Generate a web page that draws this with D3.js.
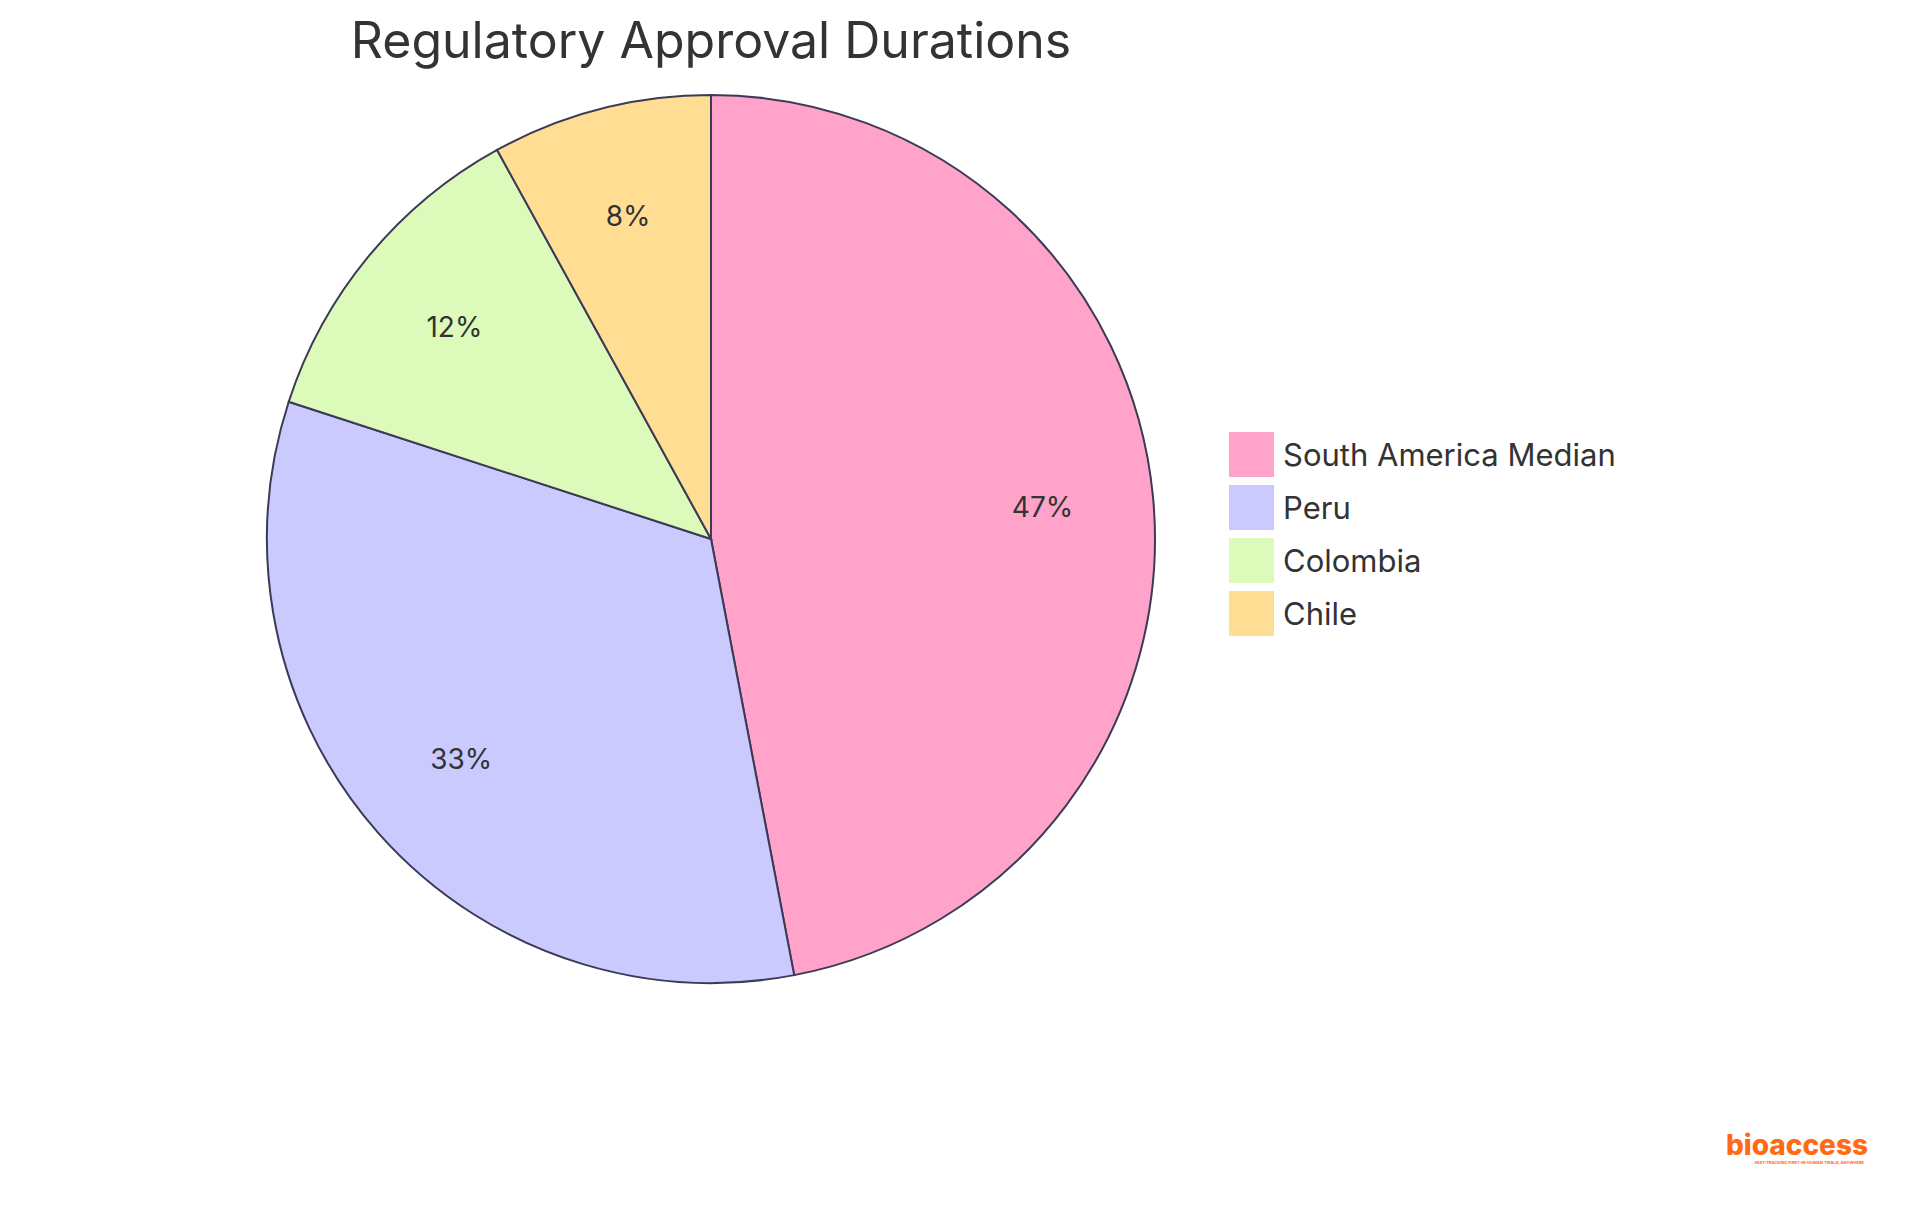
<!DOCTYPE html>
<html><head><meta charset="utf-8">
<script src="https://cdn.jsdelivr.net/npm/d3@7"></script>
<style>body{margin:0;background:#fff}svg{display:block}</style>
</head><body>
<svg id="c" width="1920" height="1215"></svg>
<script>
const categories = ["South America Median", "Peru", "Colombia", "Chile"];
const values = [47, 33, 12, 8];
const colors = ["#FFA3CB", "#CACAFF", "#DCFABA", "#FFDE94"];

const svg = d3.select("#c");
const font = "Inter, 'Open Sans', sans-serif";
const cx = 711, cy = 539, R = 444;

svg.append("text").attr("x", cx).attr("y", 58).attr("text-anchor", "middle")
  .attr("font-family", font).attr("font-size", 50).attr("fill", "#333").text("Regulatory Approval Durations");

const pie = d3.pie().sort(null).value(d => d)(values);
const arc = d3.arc().innerRadius(0).outerRadius(R);
const labelArc = d3.arc().innerRadius(R * 0.75).outerRadius(R * 0.75);
const g = svg.append("g").attr("transform", `translate(${cx},${cy})`);
g.selectAll("path").data(pie).join("path").attr("d", arc)
  .attr("fill", (d, i) => colors[i]).attr("stroke", "#3b3b57").attr("stroke-width", 2);
const total = d3.sum(values);
g.selectAll("text").data(pie).join("text")
  .attr("transform", d => `translate(${labelArc.centroid(d)})`)
  .attr("text-anchor", "middle").attr("dy", "0.35em")
  .attr("font-family", font).attr("font-size", 28).attr("fill", "#333")
  .text(d => Math.round(d.value / total * 100) + "%");

const lg = svg.append("g").attr("transform", "translate(1229,432)");
categories.forEach((c, i) => {
  const row = lg.append("g").attr("transform", `translate(0,${i * 53})`);
  row.append("rect").attr("width", 45).attr("height", 45).attr("fill", colors[i]);
  row.append("text").attr("x", 54).attr("y", 23).attr("dy", "0.35em")
    .attr("font-family", font).attr("font-size", 31).attr("fill", "#333").text(c);
});

svg.append("text").attr("x", 1868).attr("y", 1155).attr("text-anchor", "end")
  .attr("font-family", font).attr("font-weight", 800).attr("font-size", 28).attr("fill", "#ff6a13").text("bioaccess");
svg.append("text").attr("x", 1864).attr("y", 1164).attr("text-anchor", "end")
  .attr("font-family", font).attr("font-weight", 700).attr("font-size", 4).attr("fill", "#ff6a13")
  .text("FAST-TRACKING FIRST-IN-HUMAN TRIALS, ANYWHERE");
</script>
</body></html>
